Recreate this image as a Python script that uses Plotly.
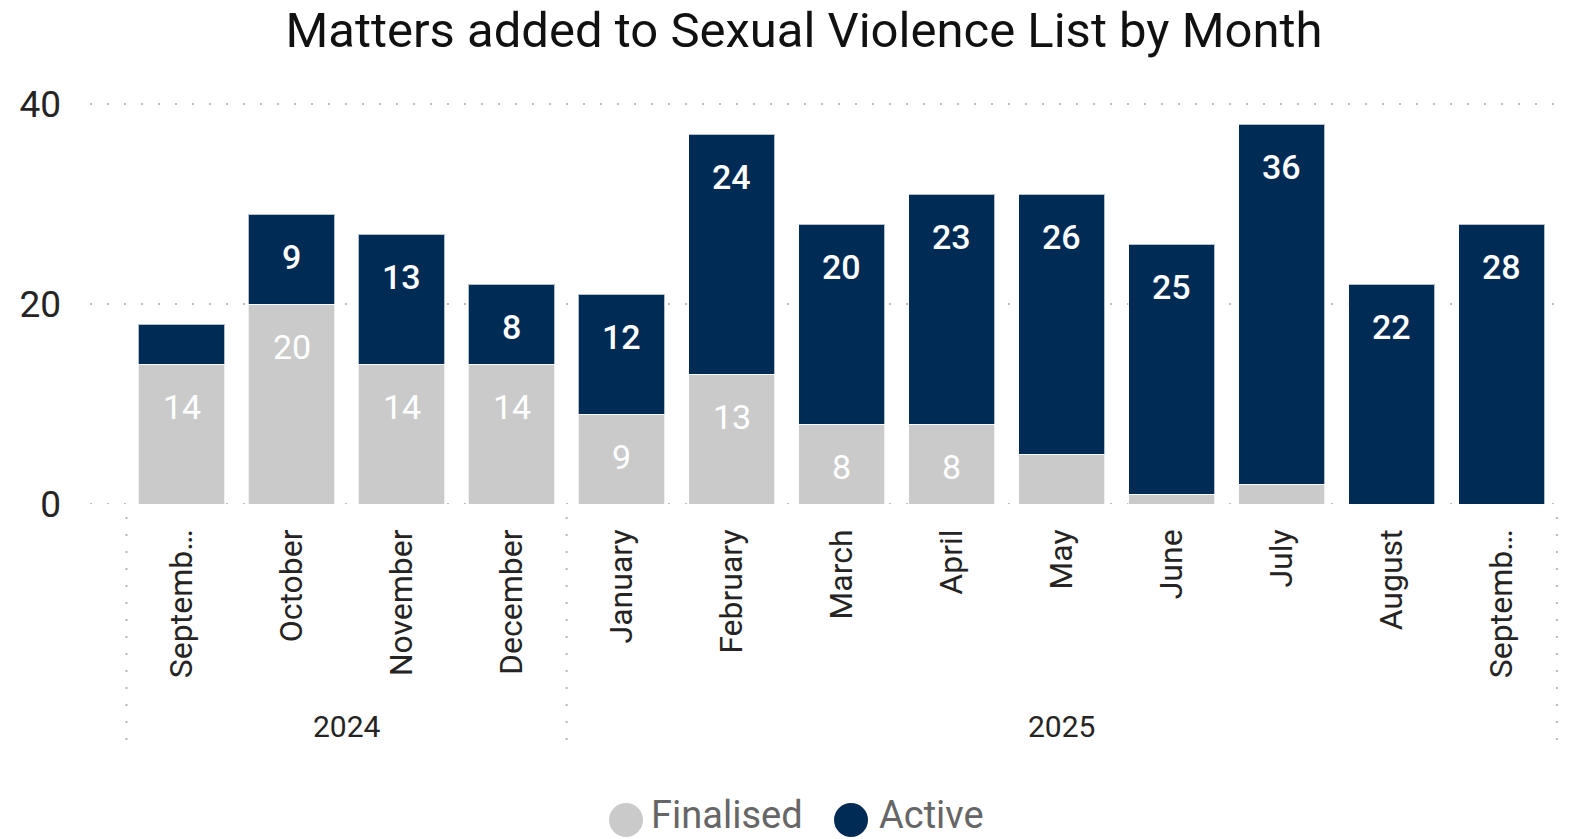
import plotly.graph_objects as go

# ---- data ----
months = ["Septemb…", "October", "November", "December", "January", "February",
          "March", "April", "May", "June", "July", "August", "Septemb…"]
years = ["2024", "2024", "2024", "2024", "2025", "2025", "2025", "2025",
         "2025", "2025", "2025", "2025", "2025"]
finalised = [14, 20, 14, 14, 9, 13, 8, 8, 5, 1, 2, 0, 0]
active = [4, 9, 13, 8, 12, 24, 20, 23, 26, 25, 36, 22, 28]
y_ticks = [0, 20, 40]

FONT = "Roboto, 'DejaVu Sans', sans-serif"
NAVY = "#002B55"
GREY = "#CACACA"
TXT = "#252423"

# plot-area geometry in pixels (for layout-only elements)
L, R, T, B = 90, 3, 80, 335
W, H = 1572, 839
PW, PH = W - L - R, H - T - B
BAND = 110.03       # px per category
C0 = 181.5          # px centre of first category
PX_PER_UNIT = 10.0  # px per y unit


def px_x(px):
    return (px - L) / PW


def px_y(py):
    return (H - B - py) / PH


x = list(range(len(months)))
totals = [f + a for f, a in zip(finalised, active)]

fig = go.Figure()
fig.add_trace(go.Bar(x=x, y=finalised, name="Finalised", marker_color=GREY,
                     marker_line=dict(color="rgba(255,255,255,0.7)", width=1),
                     hoverinfo="skip"))
fig.add_trace(go.Bar(x=x, y=active, name="Active", marker_color=NAVY,
                     marker_line=dict(color="rgba(255,255,255,0.7)", width=1),
                     hoverinfo="skip"))

annotations = []
# data labels near the top of each segment
for i in x:
    if finalised[i] >= 8:
        annotations.append(dict(x=i, y=finalised[i], xref="x", yref="y", text=str(finalised[i]),
                                showarrow=False, yshift=-43, yanchor="middle",
                                font=dict(family=FONT, size=34, color="white")))
    if active[i] >= 8:
        annotations.append(dict(x=i, y=totals[i], xref="x", yref="y", text=str(active[i]),
                                showarrow=False, yshift=-43, yanchor="middle",
                                font=dict(family=FONT, size=34, color="white", weight=500)))

# year groups
groups = []
start = 0
for i in range(1, len(years) + 1):
    if i == len(years) or years[i] != years[start]:
        groups.append((years[start], start, i - 1))
        start = i

shapes = [dict(type="line", xref="paper", yref="y", x0=0, x1=1, y0=0, y1=0, layer="below",
               line=dict(color="#BDBDBD", width=2, dash="2px,15px"))]
for name, a, b in groups:
    annotations.append(dict(x=(a + b) / 2, y=px_y(726), xref="x", yref="paper", text=name,
                            showarrow=False, yanchor="middle",
                            font=dict(family=FONT, size=30, color=TXT)))
bounds = [g[1] - 0.5 for g in groups] + [groups[-1][2] + 0.5]
for bx in bounds:
    shapes.append(dict(type="line", xref="x", yref="paper", x0=bx, x1=bx,
                       y0=px_y(517), y1=px_y(748),
                       line=dict(color="#B8B8B8", width=2, dash="2px,15px")))

# legend (circles + text)
leg = [("Finalised", GREY, 626, 649), ("Active", NAVY, 851, 877)]
r = 17
for label, col, cx, tx in leg:
    shapes.append(dict(type="circle", xref="paper", yref="paper",
                       x0=px_x(cx - r), x1=px_x(cx + r), y0=px_y(820 + r), y1=px_y(820 - r),
                       fillcolor=col, line=dict(width=0)))
    annotations.append(dict(x=px_x(tx), y=px_y(815), xref="paper", yref="paper", text=label,
                            showarrow=False, xanchor="left", yanchor="middle",
                            font=dict(family=FONT, size=38, color="#666666")))

fig.update_layout(
    barmode="stack",
    bargap=0.216,
    width=W, height=H,
    margin=dict(l=L, r=R, t=T, b=B),
    paper_bgcolor="white", plot_bgcolor="white",
    showlegend=False,
    title=dict(text="Matters added to Sexual Violence List by Month",
               x=px_x(804), xref="paper", xanchor="center",
               y=1 - 30 / H, yref="container", yanchor="middle",
               font=dict(family=FONT, size=49, color="#111111")),
    xaxis=dict(range=[(L - C0) / BAND, (W - R - C0) / BAND],
               tickmode="array", tickvals=x, ticktext=months, tickangle=-90,
               showgrid=False, zeroline=False, showline=False, ticks="",
               ticklabelstandoff=18,
               tickfont=dict(family=FONT, size=32, color=TXT)),
    yaxis=dict(range=[0, PH / PX_PER_UNIT], tickmode="array", tickvals=y_ticks,
               showgrid=True, gridcolor="#BDBDBD", gridwidth=2, griddash="2px,15px",
               zeroline=False, showline=False, ticks="",
               ticklabelstandoff=28,
               tickfont=dict(family=FONT, size=37, color=TXT)),
    annotations=annotations,
    shapes=shapes,
)

fig.write_html("out.html")
